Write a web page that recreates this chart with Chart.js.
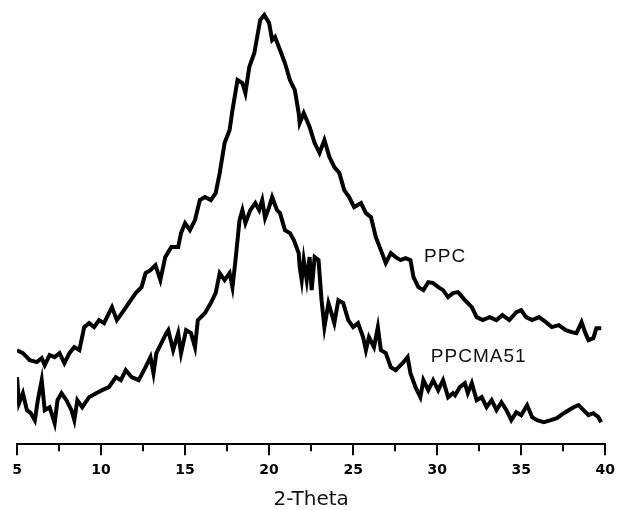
<!DOCTYPE html>
<html>
<head>
<meta charset="utf-8">
<script src="https://cdn.jsdelivr.net/npm/chart.js@4/dist/chart.umd.min.js"></script>
<style>
  html, body { margin: 0; padding: 0; background: #fff; }
  #wrap { width: 622px; height: 510px; position: relative; }
</style>
</head>
<body>
<div id="wrap"><canvas id="xrd"></canvas></div>
<script>
// ---------- XRD patterns (2-theta in degrees, intensity in arbitrary units) ----------
const ppcTheta = [5.00, 5.35, 5.76, 6.18, 6.47, 6.65, 6.94, 7.24, 7.53, 7.82, 8.12, 8.41, 8.71, 9.00, 9.29,
  9.59, 9.88, 10.18, 10.47, 10.65, 10.94, 11.24, 11.65, 12.06, 12.41, 12.65, 12.94, 13.24, 13.53, 13.82,
  14.18, 14.59, 14.76, 15.00, 15.29, 15.59, 15.88, 16.18, 16.53, 16.82, 17.06, 17.35, 17.65, 17.82, 18.12,
  18.41, 18.59, 18.82, 19.12, 19.29, 19.47, 19.71, 20.00, 20.18, 20.35, 20.65, 20.94, 21.24, 21.53, 21.76,
  21.82, 22.06, 22.41, 22.71, 23.00, 23.29, 23.59, 23.88, 24.18, 24.47, 24.76, 25.06, 25.47, 25.76, 26.06,
  26.35, 26.65, 26.94, 27.24, 27.53, 27.82, 28.12, 28.41, 28.59, 28.88, 29.18, 29.47, 29.76, 30.06, 30.35,
  30.65, 30.94, 31.24, 31.65, 32.06, 32.35, 32.71, 33.12, 33.53, 33.88, 34.29, 34.71, 35.00, 35.29, 35.65,
  36.06, 36.47, 36.82, 37.24, 37.65, 38.00, 38.29, 38.59, 38.82, 39.00, 39.29, 39.47, 39.76];
const ppcCounts = [94, 91, 84, 82, 86, 79, 89, 87, 91, 81, 91, 97, 94, 117, 121,
  117, 124, 121, 131, 137, 124, 131, 141, 151, 157, 171, 174, 179, 164, 187,
  197, 197, 211, 221, 214, 224, 244, 247, 244, 251, 271, 301, 314, 334, 364,
  361, 351, 377, 391, 407, 424, 429, 421, 404, 407, 394, 381, 364, 354, 331,
  321, 331, 317, 301, 291, 304, 287, 277, 271, 254, 247, 237, 241, 231, 227,
  207, 194, 181, 191, 187, 184, 186, 184, 167, 157, 154, 162, 161, 157, 154,
  147, 151, 152, 144, 137, 127, 124, 127, 124, 129, 124, 132, 134, 127, 124,
  127, 122, 117, 119, 114, 112, 111, 122, 111, 104, 106, 116, 116];

const ma51Theta = [5.00, 5.12, 5.35, 5.59, 5.82, 6.06, 6.24, 6.47, 6.65, 6.94, 7.24, 7.41, 7.65, 7.94, 8.24,
  8.41, 8.59, 8.88, 9.29, 9.71, 10.06, 10.47, 10.88, 11.18, 11.47, 11.82, 12.24, 12.65, 12.94, 13.12,
  13.29, 13.59, 13.88, 14.00, 14.29, 14.59, 14.76, 15.06, 15.35, 15.59, 15.76, 16.18, 16.53, 16.82, 17.06,
  17.35, 17.65, 17.82, 18.00, 18.24, 18.41, 18.59, 18.88, 19.18, 19.41, 19.59, 19.76, 20.00, 20.18, 20.47,
  20.65, 20.94, 21.24, 21.47, 21.76, 21.82, 21.94, 22.06, 22.24, 22.41, 22.53, 22.71, 22.94, 23.12, 23.29,
  23.53, 23.71, 23.88, 24.12, 24.41, 24.71, 25.00, 25.29, 25.59, 25.76, 25.94, 26.24, 26.47, 26.65, 26.94,
  27.24, 27.53, 27.94, 28.24, 28.41, 28.71, 29.00, 29.18, 29.47, 29.76, 30.06, 30.35, 30.65, 30.94, 31.06,
  31.35, 31.65, 31.82, 32.06, 32.35, 32.65, 32.94, 33.24, 33.53, 33.82, 34.12, 34.41, 34.71, 35.00, 35.35,
  35.65, 35.94, 36.35, 36.76, 37.12, 37.53, 37.82, 38.12, 38.41, 38.71, 39.00, 39.29, 39.59, 39.76];
const ma51Counts = [67, 41, 51, 34, 31, 24, 44, 64, 34, 37, 21, 44, 51, 44, 34,
  24, 44, 37, 47, 51, 54, 57, 67, 64, 74, 67, 64, 77, 87, 71,
  91, 101, 111, 114, 94, 111, 91, 114, 111, 97, 124, 131, 141, 151, 171,
  164, 171, 157, 184, 224, 234, 221, 234, 241, 234, 244, 226, 237, 247, 234,
  231, 214, 211, 204, 191, 177, 164, 184, 164, 187, 154, 187, 184, 144, 117,
  141, 131, 121, 144, 141, 124, 117, 121, 107, 94, 107, 97, 117, 94, 91,
  77, 74, 81, 87, 71, 57, 47, 64, 54, 64, 54, 64, 47, 51, 49,
  57, 61, 51, 61, 44, 47, 37, 44, 34, 42, 34, 24, 32, 29, 39,
  27, 24, 22, 24, 26, 31, 34, 37, 39, 34, 29, 31, 27, 22];

const xTicks = [5, 10, 15, 20, 25, 30, 35, 40];
const xMinorTicks = [7.5, 12.5, 17.5, 22.5, 27.5, 32.5, 37.5];
const curveNames = ["PPC", "PPCMA51"];
const namePos = [[30.47, 187], [32.47, 87]];   // where each name sits, in data units

const toPoints = (xs, ys) => xs.map((x, i) => ({ x: x, y: ys[i] }));

// short minor ticks under the axis line + the curve names
const decorations = {
  id: "decorations",
  afterDraw(chart) {
    const { ctx, scales: { x, y }, chartArea } = chart;
    ctx.save();
    ctx.strokeStyle = "#000";
    ctx.lineWidth = 2;
    xMinorTicks.forEach((t) => {
      const px = Math.round(x.getPixelForValue(t));
      ctx.beginPath();
      ctx.moveTo(px, chartArea.bottom);
      ctx.lineTo(px, chartArea.bottom + 7);
      ctx.stroke();
    });
    ctx.fillStyle = "#111";
    ctx.font = "19px 'Liberation Sans', Arial, sans-serif";
    ctx.letterSpacing = "1px";
    ctx.textAlign = "center";
    ctx.textBaseline = "middle";
    curveNames.forEach((name, i) => {
      ctx.fillText(name, x.getPixelForValue(namePos[i][0]), y.getPixelForValue(namePos[i][1]));
    });
    ctx.restore();
  },
};

new Chart(document.getElementById("xrd"), {
  type: "line",
  data: {
    datasets: [
      { label: curveNames[0], data: toPoints(ppcTheta, ppcCounts) },
      { label: curveNames[1], data: toPoints(ma51Theta, ma51Counts) },
    ],
  },
  options: {
    responsive: true, maintainAspectRatio: false, animation: false,
    layout: { padding: { top: 10, left: 17, right: 10, bottom: 0 } },
    elements: {
      line: { borderColor: "#000", borderWidth: 4, tension: 0, borderJoinStyle: "miter" },
      point: { radius: 0 },
    },
    plugins: { legend: { display: false }, tooltip: { enabled: false } },
    scales: {
      x: {
        type: "linear", min: 5, max: 40,
        afterBuildTicks: (s) => { s.ticks = xTicks.map((v) => ({ value: v })); },
        border: { display: true, color: "#000", width: 2 },
        grid: { drawOnChartArea: false, color: "#000", lineWidth: 2, tickLength: 11 },
        ticks: { color: "#000", padding: 7, maxRotation: 0, font: { family: "'DejaVu Sans', sans-serif", size: 14, weight: "bold" } },
        title: { display: true, text: "2-Theta", color: "#111", padding: { top: 4, bottom: 0 }, font: { family: "'DejaVu Sans', sans-serif", size: 20, lineHeight: 1 } },
      },
      y: { display: false, min: 0, max: 434 },
    },
  },
  plugins: [decorations],
});
</script>
</body>
</html>
